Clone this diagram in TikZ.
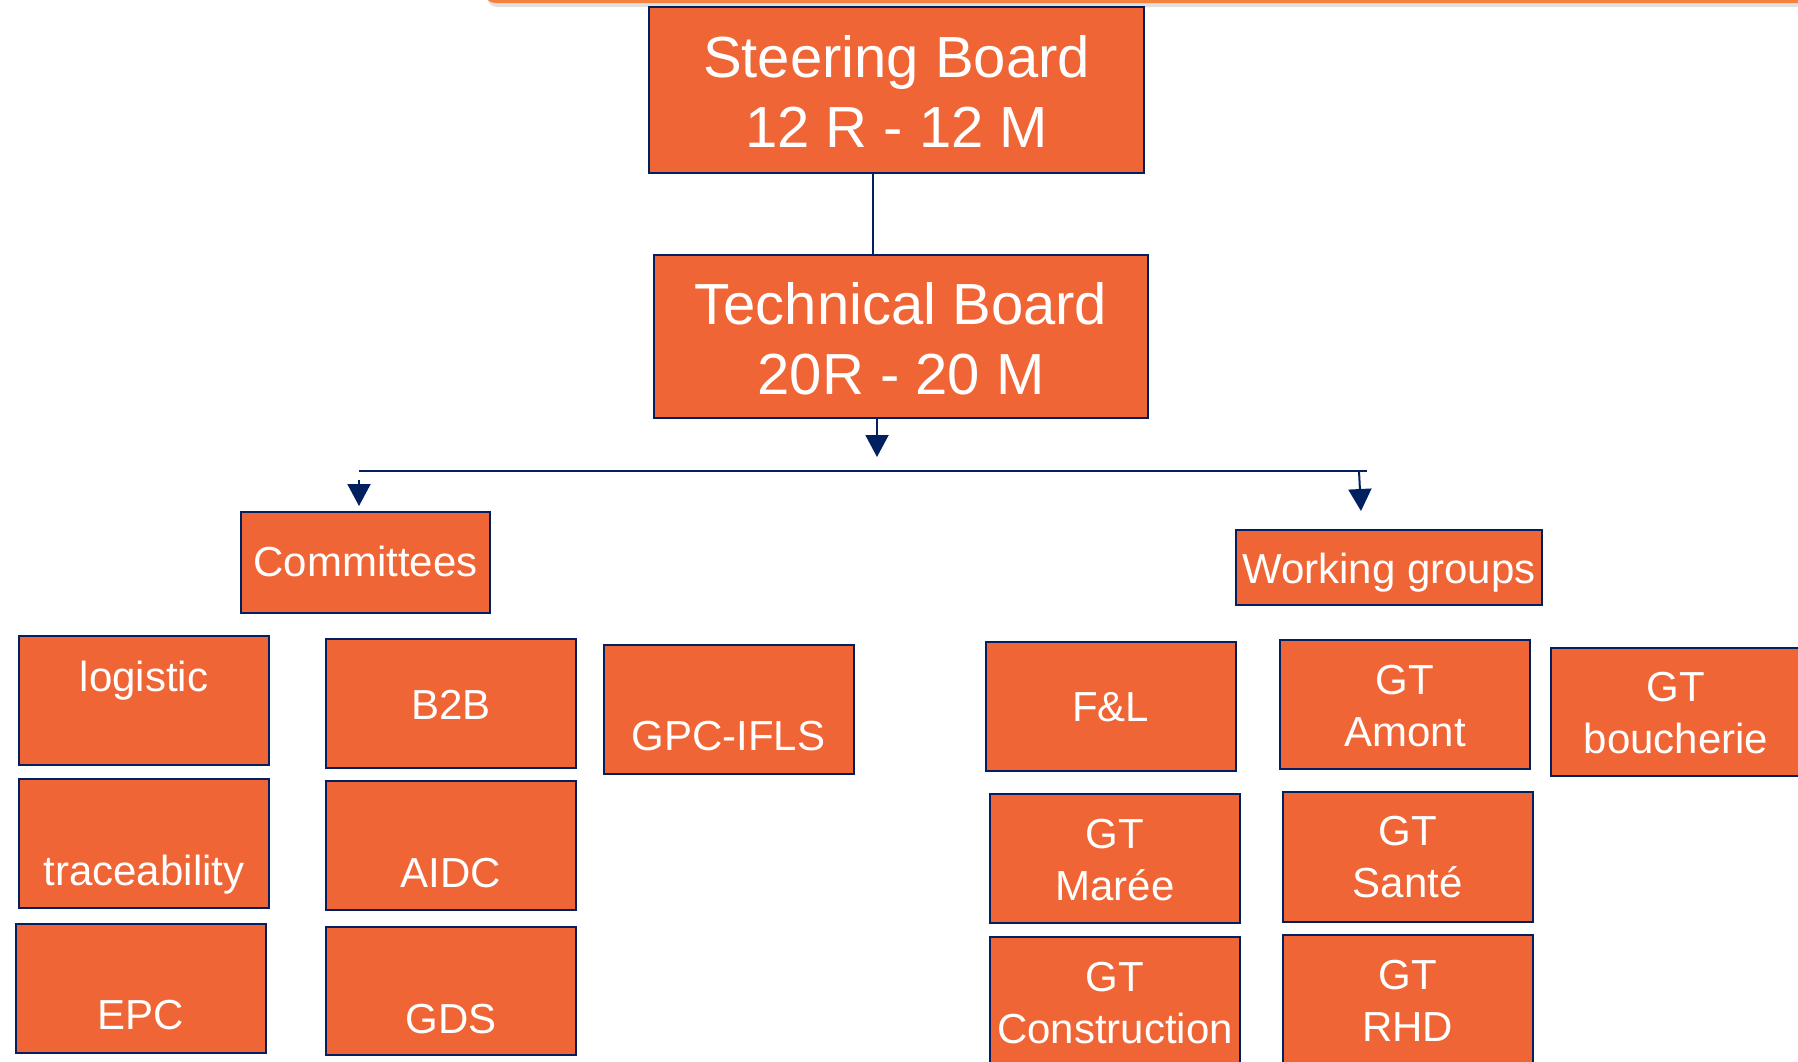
\documentclass[tikz,border=0pt]{standalone}
\usepackage{fontspec}
\setmainfont{Liberation Sans}
\usetikzlibrary{arrows.meta, positioning}

\definecolor{boxorange}{RGB}{240,101,53}
\definecolor{boxnavy}{RGB}{0,32,96}
\definecolor{barorange}{RGB}{246,128,62}

\tikzset{
  board/.style 2 args={draw=boxnavy, line width=2pt, fill=boxorange, text=white,
    font=\fontsize{58}{70}\selectfont, align=center, inner xsep=0pt, inner ysep=0pt,
    text height=#1pt, text depth=#2pt},
  head/.style 2 args={board={#1}{#2}, font=\fontsize{42}{52}\selectfont},
  group/.style 2 args={head={#1}{#2}, minimum width=250pt},
  link/.style={draw=boxnavy, line width=2.5pt},
  flow/.style={link, line width=2pt, -{Triangle[length=22pt, width=23pt]}}
}

\begin{document}
\begin{tikzpicture}[x=1pt, y=1pt, node distance=143pt, on grid]

  \useasboundingbox (0,0) rectangle (1798,-1061);

  % strip of the slide frame
  \fill[black!12, rounded corners=10pt] (487,-7) rectangle (1840,40);
  \fill[barorange, rounded corners=10pt] (485,-3) rectangle (1840,40);

  \node[board={140}{26}, minimum width=495pt] (steer) at (896.5,-90) {Steering Board\\12 R - 12 M};
  \node[board={139}{24}, minimum width=494pt, below right=246.5pt and 4.5pt of steer] (tech) {Technical Board\\20R - 20 M};

  \node[head={64}{37}, minimum width=249pt] (comm) at (365.5,-562.5) {Committees};
  \node[head={53}{22}, minimum width=306pt] (wg) at (1389,-567.5) {Working groups};

  % committees
  \node[group={55}{74}] (logistic) at (144,-700.5) {logistic};
  \node[group={106}{23}, below=of logistic] (trace) {traceability};
  \node[group={105}{24}, below left=145pt and 3pt of trace] (epc) {EPC};
  \node[group={80}{49}] (b2b) at (451,-703.5) {B2B};
  \node[group={106}{23}, below=142pt of b2b] (aidc) {AIDC};
  \node[group={106}{22}, below=145.5pt of aidc] (gds) {GDS};
  \node[group={105}{24}] (gpc) at (728.5,-709.5) {GPC-IFLS};

  % working groups
  \node[group={79}{50}] (fl) at (1110.5,-706.5) {F\&L};
  \node[group={106}{23}, below right=152pt and 4.5pt of fl] (maree) {GT\\Marée};
  \node[group={106}{23}, below=of maree] (constr) {GT\\Construction};
  \node[group={106}{23}] (amont) at (1405,-704.5) {GT\\Amont};
  \node[group={105}{25}, below right=152.5pt and 2.5pt of amont] (sante) {GT\\Santé};
  \node[group={106}{23}, below=142.5pt of sante] (rhd) {GT\\RHD};
  \node[group={105}{23}] (bouch) at (1676,-712) {GT\\boucherie};

  \coordinate (hub) at (877,-457);
  \coordinate (busL) at (359,-471);
  \coordinate (busR) at (1367,-471);
  \coordinate (commtop) at (359,-480);
  \coordinate (commtip) at (359,-506);
  \coordinate (wgtop) at (1359,-471);
  \coordinate (wgtip) at (1361,-511);

  \draw[link] ([xshift=-23.5pt]steer.south) -- ([xshift=-28pt]tech.north);
  \draw[flow] (tech.south -| hub) -- (hub);
  \draw[link] (busL) -- (busR);
  \draw[flow] (commtop) -- (commtip);
  \draw[flow] (wgtop) -- (wgtip);

\end{tikzpicture}
\end{document}
